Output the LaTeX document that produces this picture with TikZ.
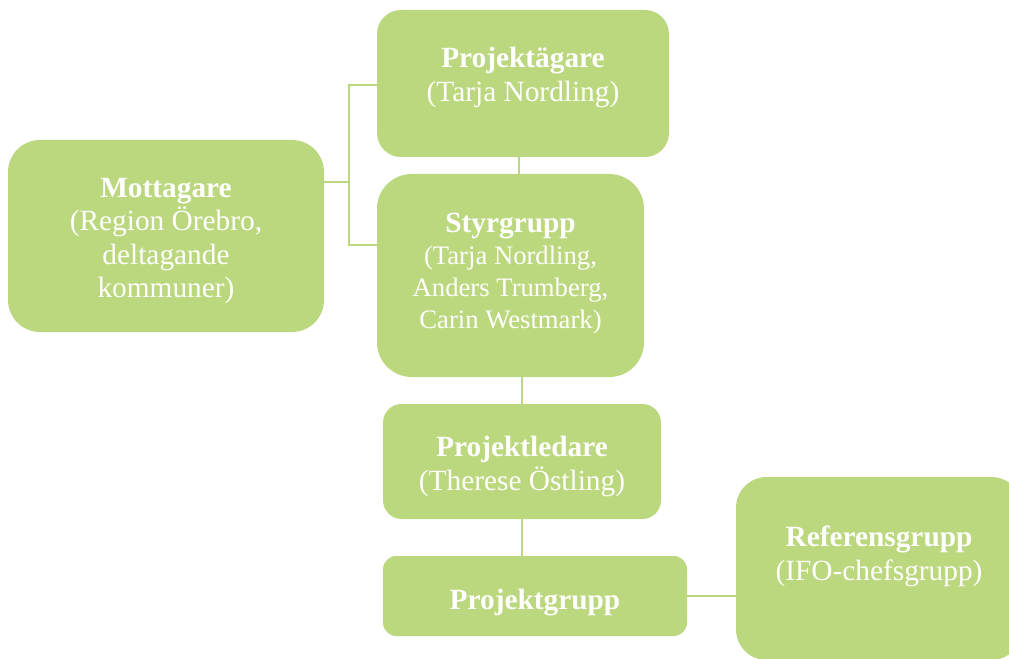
\documentclass[tikz,border=0pt]{standalone}
\usepackage{fontspec}
\setmainfont{Liberation Serif}
\usepackage{tikz}
\usetikzlibrary{positioning,calc}
\definecolor{leaf}{HTML}{BBD87E}
\newcommand\namesize{\fontsize{20pt}{24pt}\selectfont}
\newcommand\lift[1]{\rule{0pt}{#1}}

\begin{document}
\begin{tikzpicture}[x=0.75pt,y=-0.75pt,
  box/.style={fill=leaf,text=white,align=center,inner sep=0pt,
    font=\fontsize{22pt}{25pt}\selectfont},
  link/.style={draw=leaf,line width=1.5pt}]
\path[use as bounding box,clip] (0,0) rectangle (1009,659);
\node[box,minimum width=292*0.75pt,minimum height=147*0.75pt,rounded corners=18pt] (pagare) at (523,83.5)
  {\textbf{Projektägare}\\(Tarja Nordling)\\[-11pt]\mbox{}};
\node[box,minimum width=316*0.75pt,minimum height=192*0.75pt,rounded corners=24pt] (mott) at (166,236)
  {\lift{22pt}\textbf{Mottagare}\\(Region Örebro,\\deltagande\\kommuner)};
\node[box,minimum width=267*0.75pt,minimum height=203*0.75pt,rounded corners=26pt] (styr) at (510.5,275.5)
  {\textbf{Styrgrupp}\\[-1pt]\namesize(Tarja Nordling,\\[-1pt]\namesize Anders Trumberg,\\[-1pt]\namesize Carin Westmark)\\[-18pt]\mbox{}};
\node[box,minimum width=278*0.75pt,minimum height=115*0.75pt,rounded corners=14pt] (pled) at (522,461.5)
  {\lift{22.7pt}\textbf{Projektledare}\\(Therese Östling)};
\node[box,minimum width=304*0.75pt,minimum height=80*0.75pt,rounded corners=10pt] (pgrp) at (535,596)
  {\lift{25pt}\textbf{Projektgrupp}};
\node[box,minimum width=286*0.75pt,minimum height=183*0.75pt,rounded corners=23pt] (ref) at (879,568.5)
  {\textbf{Referensgrupp}\\(IFO-chefsgrupp)\\[-2pt]\mbox{}};
% connectors
\coordinate (ja) at (349,85);
\coordinate (jb) at (349,245);
\coordinate (jn) at (349,182);
\draw[link] (pagare.west |- ja) -- (ja) -- (jb) -- (styr.west |- jb);
\draw[link] (mott.east |- jn) -- (jn);
\draw[link] (pagare.south -| 519,0) -- (styr.north -| 519,0);
\draw[link] (pled.north |- styr.south) -- (pled.north);
\draw[link] (pled.south) -- (pled.south |- pgrp.north);
\draw[link] (pgrp.east) -- (pgrp.east -| ref.west);
\end{tikzpicture}
\end{document}
